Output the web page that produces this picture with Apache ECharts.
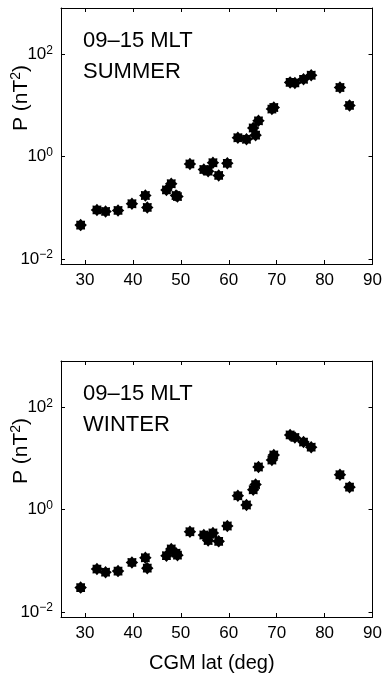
<!DOCTYPE html>
<html>
<head>
<meta charset="utf-8">
<script src="https://cdn.jsdelivr.net/npm/echarts@6/dist/echarts.min.js"></script>
<style>
html,body{margin:0;padding:0;background:#fff;}
#c{width:385px;height:684px;}
</style>
</head>
<body>
<div id="c"></div>
<script>
// ---- data ----
const LAT = [29.1, 32.5, 34.3, 36.9, 39.8, 42.6, 43.0, 47.0, 48.0, 49.0, 49.3, 51.9, 54.8, 55.7, 56.7, 57.9, 59.7, 61.9, 63.7, 65.1, 65.6, 66.2, 69.0, 69.4, 72.8, 73.8, 75.6, 77.2, 83.2, 85.2];
const SUMMER = [0.046, 0.091, 0.085, 0.089, 0.12, 0.174, 0.102, 0.224, 0.295, 0.174, 0.166, 0.72, 0.56, 0.52, 0.76, 0.43, 0.74, 2.34, 2.19, 3.63, 2.63, 5.0, 8.5, 9.1, 28.2, 27.5, 32.4, 38.9, 22.4, 10.0];
const WINTER = [0.030, 0.069, 0.060, 0.063, 0.093, 0.115, 0.072, 0.126, 0.170, 0.141, 0.129, 0.37, 0.32, 0.25, 0.35, 0.24, 0.48, 1.86, 1.23, 2.45, 3.09, 6.8, 9.3, 11.7, 28.8, 25.7, 20.9, 16.6, 4.8, 2.75];
const X_TICKS = [30, 40, 50, 60, 70, 80, 90];
const Y_TICKS = [0.01, 1, 100];
const PANEL_LABELS = ['09\u201315 MLT\nSUMMER', '09\u201315 MLT\nWINTER'];
const X_NAME = 'CGM lat (deg)';
const Y_NAME = 'P (nT{s|2})';

// ---- layout / style ----
const FONT = 'Liberation Sans, Arial, sans-serif';
const GRIDS = [{top: 8}, {top: 361}];
const GRID_H = 256;

function starPath(n, rIn) {
  let d = '';
  for (let i = 0; i < 2 * n; i++) {
    const a = Math.PI * i / n;
    const r = i % 2 ? rIn : 1;
    const x = 50 + 50 * r * Math.sin(a), y = 50 - 50 * r * Math.cos(a);
    d += (i ? 'L' : 'M') + x.toFixed(2) + ' ' + y.toFixed(2);
  }
  return 'path://' + d + 'Z';
}
const STAR = starPath(8, 0.74);

function yLabel(v) {
  const e = Math.round(Math.log10(v));
  return '{b|10}{s|' + (e < 0 ? '\u2212' + (-e) : e) + '}';
}

const lineStyle = {color: '#000', width: 1};
const xAxes = [], yAxes = [], series = [], grids = [], graphics = [];
[SUMMER, WINTER].forEach((vals, g) => {
  grids.push({left: 61, right: 11, top: GRIDS[g].top, height: GRID_H, show: false});
  ['bottom', 'top'].forEach((pos) => {
    const ax = {
      gridIndex: g, type: 'value', min: 25, max: 90, position: pos,
      axisLine: {show: true, onZero: false, lineStyle},
      axisTick: {show: true, inside: true, length: 4, customValues: X_TICKS, lineStyle},
      axisLabel: {show: pos === 'bottom', customValues: X_TICKS, color: '#000', fontSize: 17, fontFamily: FONT, margin: 8},
      splitLine: {show: false}
    };
    if (pos === 'bottom' && g === 1) {
      ax.name = X_NAME; ax.nameLocation = 'middle'; ax.nameGap = 36;
      ax.nameTextStyle = {color: '#000', fontSize: 20, fontFamily: FONT, padding: [0, 10, 0, 0]};
    }
    xAxes.push(ax);
  });
  ['left', 'right'].forEach((pos) => {
    yAxes.push({
      gridIndex: g, type: 'log', logBase: 10, min: 0.008, max: 800, position: pos,
      axisLine: {show: true, onZero: false, lineStyle},
      axisTick: {show: true, inside: true, length: 4, customValues: Y_TICKS, lineStyle},
      axisLabel: {show: pos === 'left', customValues: Y_TICKS, formatter: yLabel, margin: 8,
        rich: {b: {fontSize: 17, fontFamily: FONT, color: '#000'},
               s: {fontSize: 12, fontFamily: FONT, color: '#000', verticalAlign: 'top', padding: [0, 0, 8, 0]}}},
      splitLine: {show: false}, minorTick: {show: false}
    });
  });
  series.push({
    type: 'scatter', xAxisIndex: g * 2, yAxisIndex: g * 2,
    data: LAT.map((x, i) => [x, vals[i]]),
    symbol: STAR, symbolSize: 12.5, itemStyle: {color: '#000', opacity: 1}
  });
  graphics.push({
    type: 'text', left: 83, top: GRIDS[g].top + 17,
    style: {text: PANEL_LABELS[g], font: '22px ' + FONT, fill: '#000', lineHeight: 31}
  });
  graphics.push({
    type: 'text', x: 21, y: GRIDS[g].top + 90, rotation: Math.PI / 2,
    style: {text: Y_NAME, fill: '#000', align: 'center', verticalAlign: 'middle',
      font: '21px ' + FONT,
      rich: {s: {fontSize: 14, fontFamily: FONT, fill: '#000', verticalAlign: 'top', padding: [0, 0, 9, 0]}}}
  });
});

const chart = echarts.init(document.getElementById('c'), null, {renderer: 'canvas'});
chart.setOption({
  animation: false,
  backgroundColor: '#fff',
  grid: grids, xAxis: xAxes, yAxis: yAxes, series, graphic: graphics
});
</script>
</body>
</html>
